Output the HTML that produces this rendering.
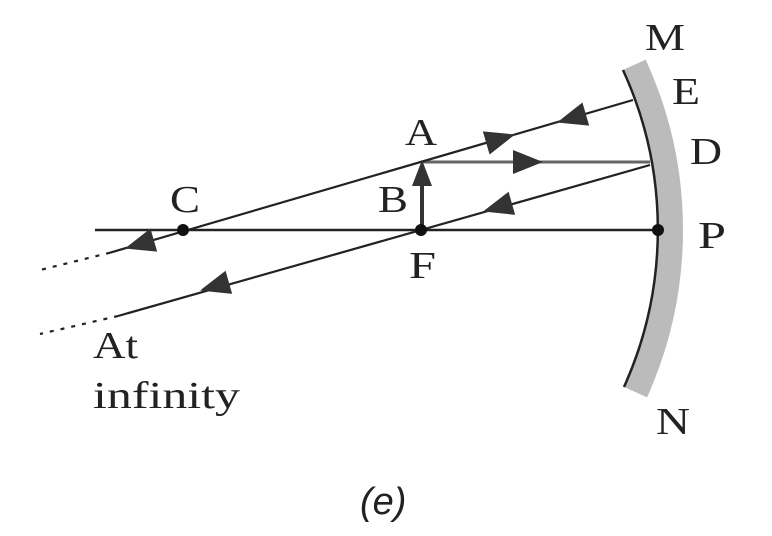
<!DOCTYPE html>
<html><head><style>
html,body{margin:0;padding:0;background:#fff;}
svg{display:block;}
text{font-family:"Liberation Serif",serif;font-size:38px;fill:#222;}
</style></head><body>
<svg width="772" height="536" viewBox="0 0 772 536" xmlns="http://www.w3.org/2000/svg">
<defs><path id="h" d="M0,0 L-30,-12 L-30,12 Z" fill="#333"/></defs>
<!-- mirror -->
<path d="M633.9,65 A395,395 0 0 1 635.2,392" fill="none" stroke="#bbb" stroke-width="26"/>
<path d="M623,70 A383,383 0 0 1 624,387" fill="none" stroke="#222" stroke-width="2.5"/>
<!-- axis -->
<line x1="95" y1="230" x2="658" y2="230" stroke="#222" stroke-width="2.5"/>
<!-- horizontal ray -->
<line x1="421" y1="162" x2="650" y2="162" stroke="#666" stroke-width="3"/>
<!-- ray through C -->
<line x1="633" y1="100" x2="110" y2="252.7" stroke="#222" stroke-width="2.2"/>
<line x1="110" y1="252.7" x2="36" y2="271" stroke="#222" stroke-width="2.2" stroke-dasharray="4,7"/>
<!-- ray through F -->
<line x1="650" y1="165" x2="118" y2="316" stroke="#222" stroke-width="2.2"/>
<line x1="118" y1="316" x2="40" y2="334" stroke="#222" stroke-width="2.2" stroke-dasharray="4,7"/>
<!-- object -->
<line x1="422" y1="230" x2="422" y2="180" stroke="#333" stroke-width="4"/>
<path d="M422,160 L412,186 L432,186 Z" fill="#333"/>
<!-- points -->
<circle cx="183" cy="230" r="6" fill="#111"/>
<circle cx="421" cy="230" r="6" fill="#111"/>
<circle cx="658" cy="230" r="6" fill="#111"/>
<!-- arrowheads -->
<use href="#h" transform="translate(515,134.5) rotate(-16.3)"/>
<use href="#h" transform="translate(557,122.5) rotate(163.7)"/>
<use href="#h" transform="translate(543,162)"/>
<use href="#h" transform="translate(483,211.5) rotate(164.1)"/>
<use href="#h" transform="translate(125,248.5) rotate(163.7)"/>
<use href="#h" transform="translate(200,290.5) rotate(164.1)"/>
<!-- labels -->
<text x="645" y="50" textLength="40" lengthAdjust="spacingAndGlyphs">M</text>
<text x="672" y="104" textLength="28" lengthAdjust="spacingAndGlyphs">E</text>
<text x="405" y="145" textLength="32" lengthAdjust="spacingAndGlyphs">A</text>
<text x="690" y="164" textLength="32" lengthAdjust="spacingAndGlyphs">D</text>
<text x="170" y="212" textLength="30" lengthAdjust="spacingAndGlyphs">C</text>
<text x="378" y="212" textLength="30" lengthAdjust="spacingAndGlyphs">B</text>
<text x="698" y="248" textLength="28" lengthAdjust="spacingAndGlyphs">P</text>
<text x="409" y="278" textLength="27" lengthAdjust="spacingAndGlyphs">F</text>
<text x="656" y="434" textLength="34" lengthAdjust="spacingAndGlyphs">N</text>
<text x="93" y="358" textLength="45" lengthAdjust="spacingAndGlyphs">At</text>
<text x="93" y="408" textLength="147" lengthAdjust="spacingAndGlyphs">infinity</text>
<text x="360" y="514" style="font-family:'Liberation Sans',sans-serif;font-style:italic;font-size:38px;">(e)</text>
</svg>
</body></html>
